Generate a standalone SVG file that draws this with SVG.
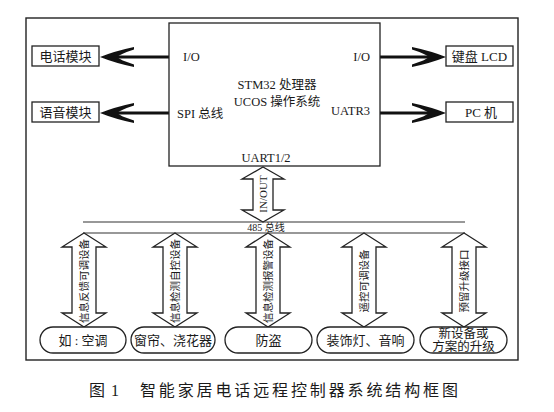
<svg xmlns="http://www.w3.org/2000/svg" xmlns:xlink="http://www.w3.org/1999/xlink" width="554" height="412" viewBox="0 0 554 412">
<style>
text{font-family:"Liberation Serif","Noto Sans CJK SC",serif;fill:#1a1a1a}
.box{fill:#fff;stroke:#222;stroke-width:1.3}
.frame{fill:none;stroke:#222;stroke-width:1.4}
.line{stroke:#111;stroke-width:3;fill:none}
.head{fill:#111}
.blk{fill:#fff;stroke:#222;stroke-width:1.3}
.bus{stroke:#333;stroke-width:1.2}
.t13{font-size:13px}
.t12{font-size:12.5px}
.t10{font-size:10.5px}
.cap{font-size:16px}
</style>
<defs>
<path id="dbl" d="M0,0 L22,14 L12,14 L12,80 L22,80 L0,94 L-22,80 L-12,80 L-12,14 L-22,14 Z"/>
<path id="hl" d="M0,0 Q15,-6 34,-10 L34,-7.5 Q20,-3 17,0 Q20,3 34,7.5 L34,10 Q15,6 0,0 Z"/>
</defs>
<rect width="554" height="412" fill="#fff"/>
<rect class="frame" x="26" y="18" width="492" height="342"/>

<g id="connectors">
  <line class="line" x1="169" y1="57" x2="112" y2="57"/>
  <use href="#hl" x="100" y="57" class="head"/>
  <line class="line" x1="169" y1="113" x2="112" y2="113"/>
  <use href="#hl" x="100" y="113" class="head"/>
  <line class="line" x1="380" y1="57" x2="434" y2="57"/>
  <use href="#hl" transform="translate(446,57) scale(-1,1)" class="head"/>
  <line class="line" x1="380" y1="113" x2="434" y2="113"/>
  <use href="#hl" transform="translate(446,113) scale(-1,1)" class="head"/>
  <path class="blk" d="M263,167 L284,179 L273,179 L273,210 L284,210 L263,222 L242,210 L253,210 L253,179 L242,179 Z"/>
  <text style="font-size:11px" transform="translate(267,194) rotate(-90)" text-anchor="middle">IN/OUT</text>
  <line class="bus" x1="83" y1="222" x2="465" y2="222"/>
  <line class="bus" x1="83" y1="233" x2="465" y2="233"/>
  <text style="font-size:10px" x="266" y="231" text-anchor="middle">485 总线</text>
  <use href="#dbl" x="84" y="233" class="blk"/>
  <use href="#dbl" x="175" y="233" class="blk"/>
  <use href="#dbl" x="268" y="233" class="blk"/>
  <use href="#dbl" x="364" y="233" class="blk"/>
  <use href="#dbl" x="464" y="233" class="blk"/>
  <text class="t10" transform="translate(88,281) rotate(-90)" text-anchor="middle">信息反馈可调设备</text>
  <text class="t10" transform="translate(179,281) rotate(-90)" text-anchor="middle">信息检测自控设备</text>
  <text class="t10" transform="translate(272,281) rotate(-90)" text-anchor="middle">信息检测报警设备</text>
  <text class="t10" transform="translate(368,281) rotate(-90)" text-anchor="middle">遥控可调设备</text>
  <text class="t10" transform="translate(468,281) rotate(-90)" text-anchor="middle">预留升级接口</text>
</g>

<g id="cpu">
  <rect class="box" x="169" y="23" width="211" height="143"/>
  <text class="t12" x="183" y="61">I/O</text>
  <text class="t12" x="370" y="61" text-anchor="end">I/O</text>
  <text class="t12" x="277" y="89" text-anchor="middle">STM32 处理器</text>
  <text class="t12" x="277" y="106" text-anchor="middle">UCOS 操作系统</text>
  <text class="t12" x="177" y="118">SPI 总线</text>
  <text class="t12" x="370" y="115" text-anchor="end">UATR3</text>
  <text class="t12" x="266" y="162" text-anchor="middle">UART1/2</text>
</g>

<g id="phone"><rect class="box" x="32" y="46" width="67" height="20"/><text class="t13" x="65.5" y="61" text-anchor="middle">电话模块</text></g>
<g id="voice"><rect class="box" x="32" y="102" width="67" height="20"/><text class="t13" x="65.5" y="117" text-anchor="middle">语音模块</text></g>
<g id="lcd"><rect class="box" x="446" y="46" width="67" height="20"/><text class="t13" x="479.5" y="61" text-anchor="middle">键盘 LCD</text></g>
<g id="pc"><rect class="box" x="446" y="102" width="67" height="20"/><text class="t13" x="481" y="117" text-anchor="middle">PC 机</text></g>

<g id="aircon"><rect class="box" x="40" y="327" width="86" height="26" rx="13"/><text class="t13" x="83" y="345" text-anchor="middle">如 : 空调</text></g>
<g id="curtain"><rect class="box" x="131" y="327" width="84" height="26" rx="13"/><text class="t13" x="173" y="345" text-anchor="middle">窗帘、浇花器</text></g>
<g id="security"><rect class="box" x="225" y="327" width="87" height="26" rx="13"/><text class="t13" x="268.5" y="345" text-anchor="middle">防盗</text></g>
<g id="lights"><rect class="box" x="317" y="327" width="97" height="26" rx="13"/><text class="t13" x="365.5" y="345" text-anchor="middle">装饰灯、音响</text></g>
<g id="upgrade"><rect class="box" x="420" y="327" width="87" height="26" rx="13"/><text class="t12" x="463.5" y="338" text-anchor="middle">新设备或</text><text class="t12" x="463.5" y="351" text-anchor="middle">方案的升级</text></g>

<text class="cap" x="89" y="396">图</text>
<text class="cap" x="111" y="396">1</text>
<text class="cap" x="140" y="396" textLength="318" lengthAdjust="spacing">智能家居电话远程控制器系统结构框图</text>
</svg>
